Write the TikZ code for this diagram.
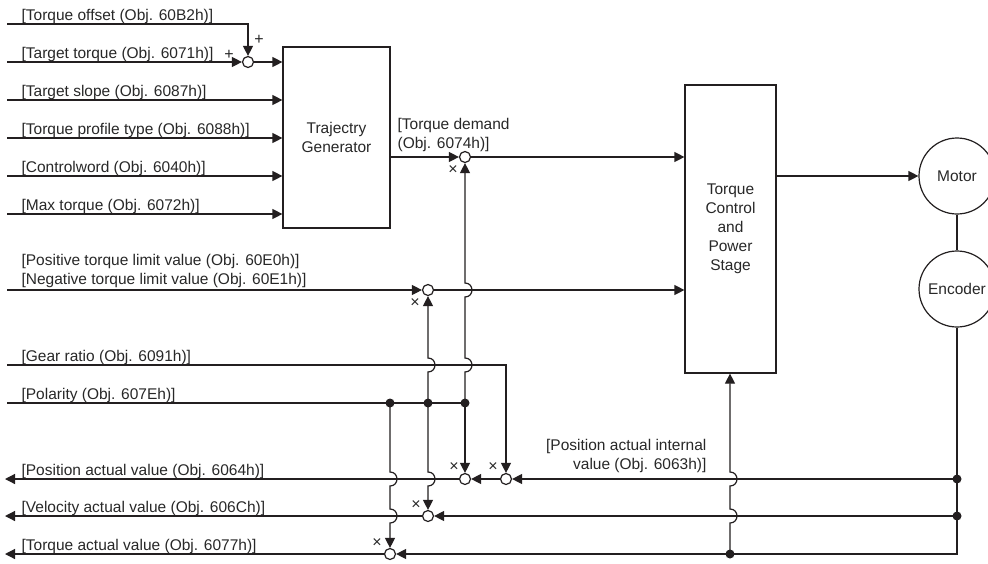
\documentclass[tikz,border=0pt]{standalone}
\usepackage{fontspec}
\setmainfont{Liberation Sans}
\usetikzlibrary{arrows.meta}
\definecolor{ink}{RGB}{35,31,32}
\definecolor{txt}{RGB}{40,40,40}
\newcommand\bumpdn[2]{-- (#1,#2-7) .. controls (#1+9.3,#2-7) and (#1+9.3,#2+7) .. (#1,#2+7)}
\newcommand\bumpup[2]{-- (#1,#2+7) .. controls (#1+9.3,#2+7) and (#1+9.3,#2-7) .. (#1,#2-7)}
\begin{document}
\begin{tikzpicture}[x=1pt,y=-1pt, line width=1.2pt, draw=ink,
  arr/.style={-{Triangle[length=10pt,width=10pt]}},
  lbl/.style={font=\fontsize{15.5}{19}\selectfont, text=txt, inner sep=0pt},
  inlbl/.style={lbl, anchor=base west},
  sum/.style={circle, draw=ink, fill=white, minimum size=11pt, inner sep=0pt, line width=1.2pt},
  dotn/.style={circle, fill=ink, minimum size=9pt, inner sep=0pt},
  blk/.style={draw=ink, fill=white, inner sep=0pt, align=center, font=\fontsize{15.5}{19}\selectfont, text=txt},
  sign/.style={font=\fontsize{16}{16}\selectfont, inner sep=0pt, text=txt},
]
\clip (0,0) rectangle (988,563);
\fill[white] (0,0) rectangle (988,563);

% blocks
\node[blk, minimum width=107pt, minimum height=181pt] (tg) at (336.5,137.5) {Trajectry\\Generator};
\node[blk, minimum width=91pt, minimum height=288pt] (tc) at (730.5,229) {Torque\\Control\\and\\Power\\Stage};
\node[blk, circle, minimum size=76pt] (motor) at (957,176) {Motor};
\node[blk, circle, minimum size=76pt] (enc) at (957,289) {Encoder};

% summing points
\node[sum] (sumOff) at (248,62) {};
\node[sum] (sumTD) at (465,157) {};
\node[sum] (sumLim) at (428,290) {};
\node[sum] (sumPos) at (465,479) {};
\node[sum] (sumGear) at (506,479) {};
\node[sum] (sumVel) at (428,516) {};
\node[sum] (sumTq) at (390,554) {};

% free ends
\coordinate (inOff) at (7,24);
\coordinate (inTT) at (7,62);
\coordinate (inSlope) at (7,100);
\coordinate (inProf) at (7,138);
\coordinate (inCW) at (7,176);
\coordinate (inMax) at (7,214);
\coordinate (inLim) at (7,290);
\coordinate (inGear) at (7,365);
\coordinate (inPol) at (7,403);
\coordinate (outPos) at (5,479);
\coordinate (outVel) at (5,516);
\coordinate (outTq) at (5,554);

% labels
\node[inlbl] (lOff) at (21,20) {[Torque offset (Obj. 60B2h)]};
\node[inlbl] (lTT) at (21,58) {[Target torque (Obj. 6071h)]};
\node[inlbl] (lSlope) at (21,96) {[Target slope (Obj. 6087h)]};
\node[inlbl] (lProf) at (21,134) {[Torque profile type (Obj. 6088h)]};
\node[inlbl] (lCW) at (21,172) {[Controlword (Obj. 6040h)]};
\node[inlbl] (lMax) at (21,210) {[Max torque (Obj. 6072h)]};
\node[lbl, anchor=south west, align=left] (lLim) at (21,288) {[Positive torque limit value (Obj. 60E0h)]\\{}[Negative torque limit value (Obj. 60E1h)]};
\node[inlbl] (lGear) at (21,361) {[Gear ratio (Obj. 6091h)]};
\node[inlbl] (lPol) at (21,399) {[Polarity (Obj. 607Eh)]};
\node[inlbl] (lPos) at (21,475) {[Position actual value (Obj. 6064h)]};
\node[inlbl] (lVel) at (21,512) {[Velocity actual value (Obj. 606Ch)]};
\node[inlbl] (lTq) at (21,550) {[Torque actual value (Obj. 6077h)]};
\node[lbl, anchor=south west, align=left] (lTD) at (397,152) {[Torque demand\\{}(Obj. 6074h)]};
\node[lbl, anchor=south east, align=right] (lPAI) at (707,473) {[Position actual internal\\{}value (Obj. 6063h)]};

% signs
\node[sign] (p1) at (229,55) {+};
\node[sign] (p2) at (259,40) {+};
\node[sign] (x1) at (453,170) {×};
\node[sign] (x2) at (415,303) {×};
\node[sign] (x3) at (454,467) {×};
\node[sign] (x4) at (493,467) {×};
\node[sign] (x5) at (416,505) {×};
\node[sign] (x6) at (377,543) {×};

% connectors: inputs
\draw[arr] (inOff) -| (sumOff.north);
\draw[arr] (inTT) -- (sumOff.west);
\draw[arr] (sumOff.east) -- (sumOff -| tg.west);
\draw[arr] (inSlope) -- (inSlope -| tg.west);
\draw[arr] (inProf) -- (inProf -| tg.west);
\draw[arr] (inCW) -- (inCW -| tg.west);
\draw[arr] (inMax) -- (inMax -| tg.west);
\draw[arr] (tg.east |- sumTD) -- (sumTD.west);
\draw[arr] (sumTD.east) -- (sumTD -| tc.west);
\draw[arr] (tc.east |- motor) -- (motor.west);
\draw (motor.south) -- (enc.north);

\draw[arr] (inLim) -- (sumLim.west);
\draw[arr] (sumLim.east) -- (sumLim -| tc.west);
\draw[arr] (inGear) -| (sumGear.north);

% junction dots
\node[dotn] (d1) at (390,403) {};
\node[dotn] (d2) at (428,403) {};
\node[dotn] (d3) at (465,403) {};
\node[dotn] (dPos) at (957,479) {};
\node[dotn] (dVel) at (957,516) {};
\node[dotn] (dTq) at (730,554) {};

\draw (inPol) -- (d3.center);

% verticals from polarity
\draw[arr] (d3.center) \bumpup{465}{365} \bumpup{465}{290} -- (sumTD.south);
\draw[arr] (d3.center) -- (sumPos.north);
\draw[arr] (d2.center) \bumpup{428}{365} -- (sumLim.south);
\draw[arr] (d2.center) \bumpdn{428}{479} -- (sumVel.north);
\draw[arr] (d1.center) \bumpdn{390}{479} \bumpdn{390}{516} -- (sumTq.north);

% feedback
\draw[arr] (enc.south) |- (sumTq.east);
\draw[arr] (dPos.center) -- (sumGear.east);
\draw[arr] (sumGear.west) -- (sumPos.east);
\draw[arr] (sumPos.west) -- (outPos);
\draw[arr] (dVel.center) -- (sumVel.east);
\draw[arr] (sumVel.west) -- (outVel);
\draw[arr] (sumTq.west) -- (outTq);
\draw[arr] (dTq.center) \bumpup{730}{516} \bumpup{730}{479} -- (dTq |- tc.south);
\end{tikzpicture}
\end{document}
